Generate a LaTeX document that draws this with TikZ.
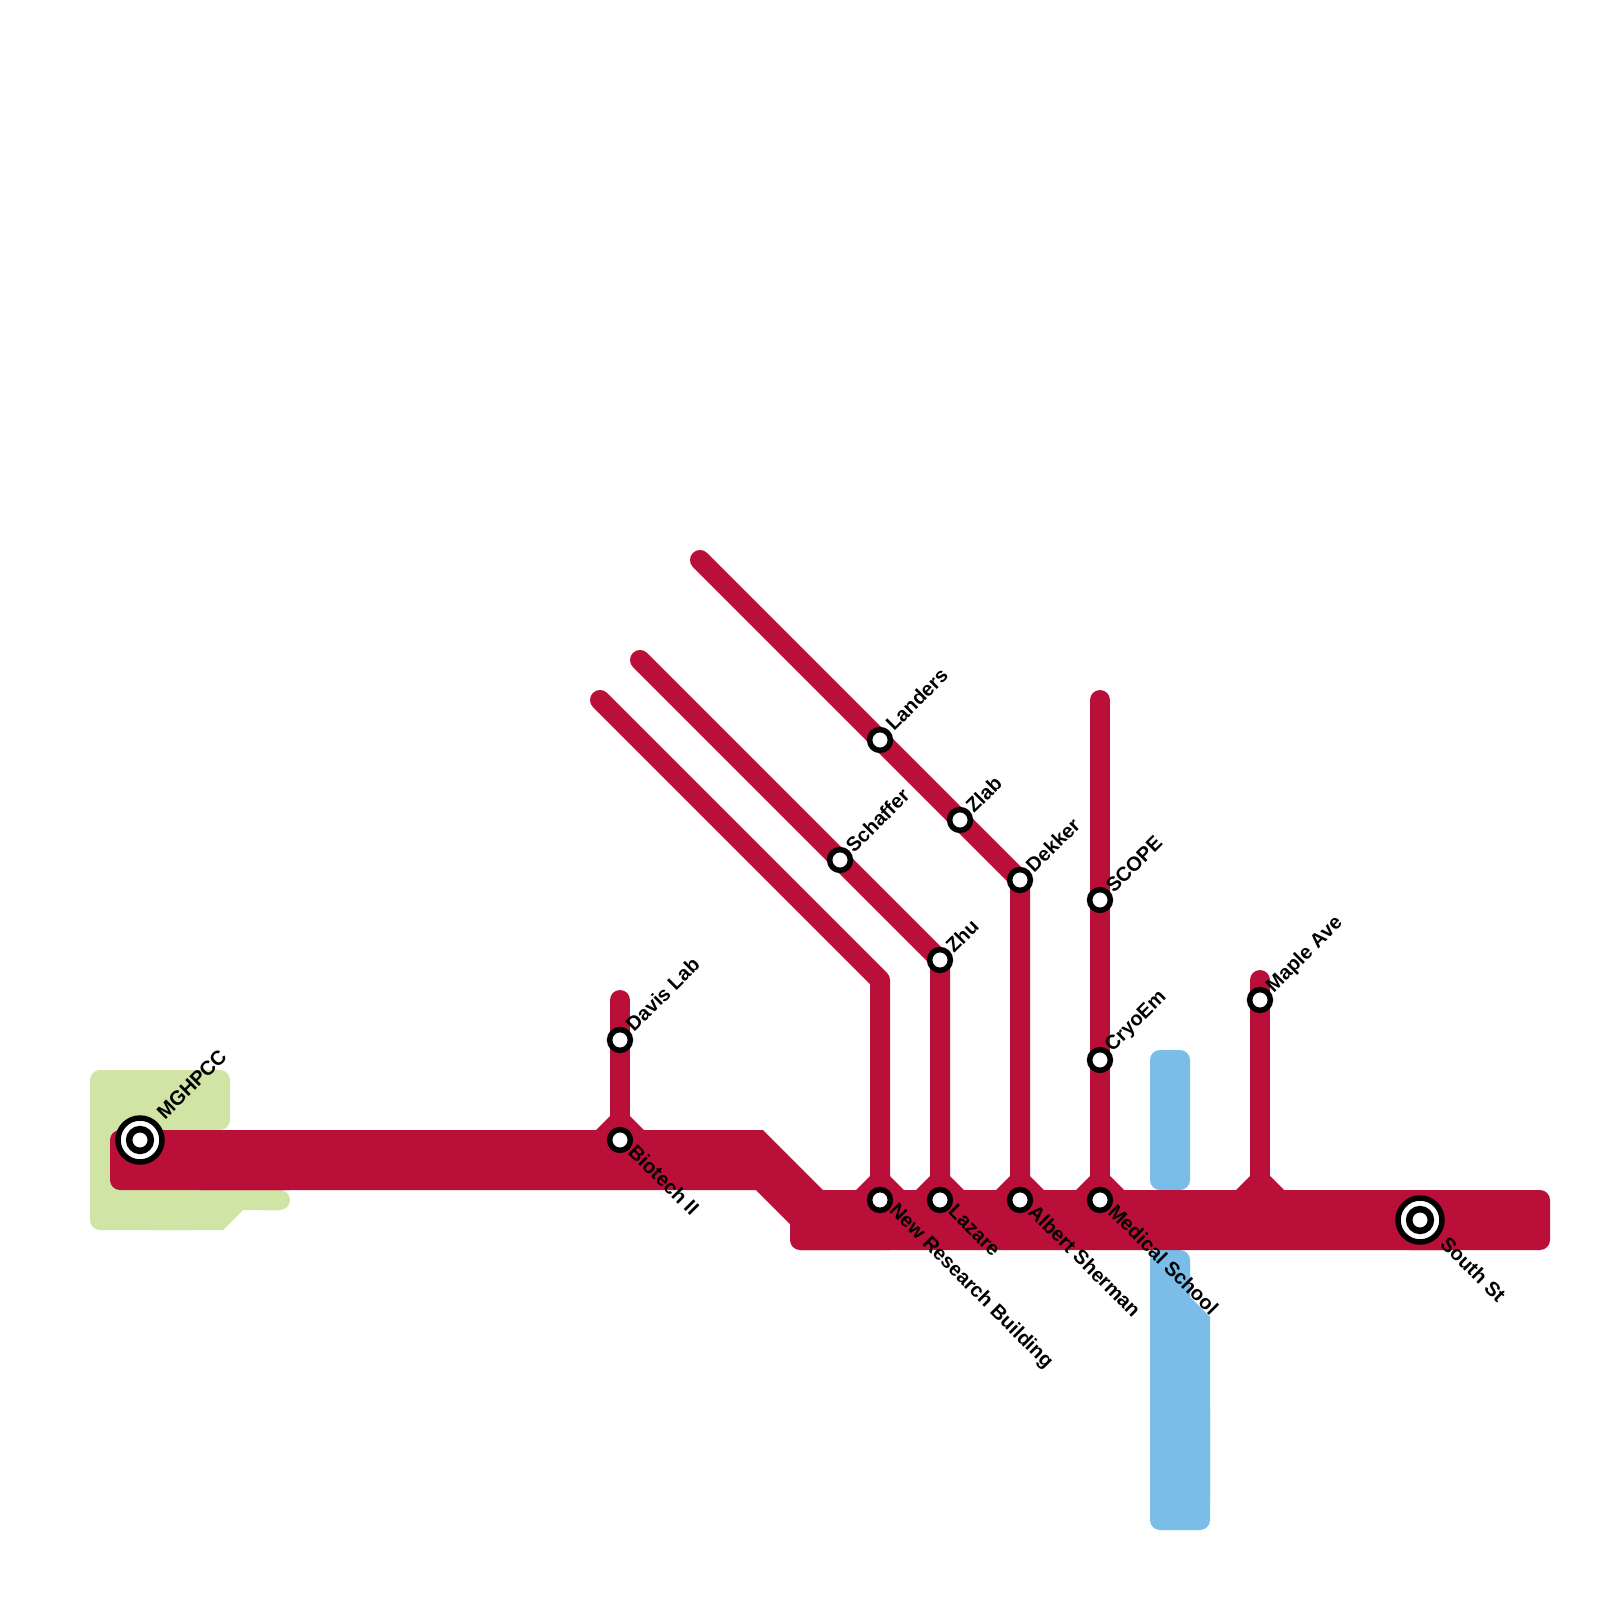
\documentclass[tikz,border=0pt]{standalone}
\usepackage{fontspec}
\setmainfont{Liberation Sans}
\definecolor{redline}{HTML}{BA0F38}
\definecolor{greenarea}{HTML}{D0E4A6}
\definecolor{bluearea}{HTML}{7ABDE8}
\tikzset{
  x=1pt,y=-1pt,
  corner/.style={rounded corners=10pt},
  thin line/.style={draw=redline,line width=20pt,line cap=round,line join=round},
  halt/.style={circle,draw=black,fill=white,line width=5.5pt,minimum size=18pt,inner sep=0pt},
  hub/.style={circle,draw=black,fill=white,line width=5.5pt,minimum size=41.5pt,inner sep=0pt},
  hubcore/.style={circle,draw=black,fill=white,line width=6.5pt,minimum size=18.5pt,inner sep=0pt},
  lab/.style={font=\bfseries\fontsize{20}{20}\selectfont,inner sep=0pt,text=black},
  up/.style={lab,rotate=45,anchor=west},
  down/.style={lab,rotate=-45,anchor=west},
}
\newcommand{\chamfer}[2]{\fill[redline] (#1-24,#2) -- (#1-10,#2-14) -- (#1+10,#2-14) -- (#1+24,#2) -- cycle;}
\begin{document}
\begin{tikzpicture}
\useasboundingbox (0,0) rectangle (1600,1600);
% green area
\fill[greenarea,corner] (90,1070) rectangle (230,1130);
\fill[greenarea,corner] (90,1100) rectangle (200,1230);
\fill[greenarea,corner] (250,1190) rectangle (290,1210);
\fill[greenarea] (150,1190) -- (280,1190) -- (280,1210) -- (243,1210) -- (223,1230) -- (150,1230) -- cycle;
% blue area
\fill[bluearea,corner] (1150,1050) rectangle (1190,1190);
\fill[bluearea,corner] (1150,1250) rectangle (1190,1320);
\fill[bluearea,corner] (1150,1400) rectangle (1210,1530);
\fill[bluearea] (1150,1265) -- (1190,1265) -- (1190,1297) -- (1210,1317) -- (1210,1500) -- (1150,1500) -- cycle;
% free line ends
\coordinate (a0) at (600,700);
\coordinate (a1) at (880,980);
\coordinate (b0) at (640,660);
\coordinate (c0) at (700,560);
\coordinate (d0) at (1100,700);
\coordinate (e0) at (1260,980);
\coordinate (e1) at (1260,1200);
\coordinate (f0) at (620,1000);
% wide bands
\fill[redline,corner] (110,1130) rectangle (300,1190);
\fill[redline,corner] (790,1190) rectangle (900,1250);
\fill[redline,corner] (1400,1190) rectangle (1550,1250);
\fill[redline] (200,1130) -- (763,1130) -- (823,1190) -- (1450,1190) -- (1450,1250) -- (800,1250) -- (800,1235) -- (790,1235) -- (790,1224) -- (756,1190) -- (200,1190) -- cycle;
\chamfer{620}{1130}
\chamfer{880}{1190}
\chamfer{940}{1190}
\chamfer{1020}{1190}
\chamfer{1100}{1190}
\chamfer{1260}{1190}
% station anchors
\coordinate (davis) at (620,1040);
\coordinate (bio) at (620,1140);
\coordinate (nrb) at (880,1200);
\coordinate (laz) at (940,1200);
\coordinate (alb) at (1020,1200);
\coordinate (med) at (1100,1200);
\coordinate (cryo) at (1100,1060);
\coordinate (scope) at (1100,900);
\coordinate (dek) at (1020,880);
\coordinate (zlab) at (960,820);
\coordinate (land) at (880,740);
\coordinate (sch) at (840,860);
\coordinate (zhu) at (940,960);
\coordinate (maple) at (1260,1000);
% lines
\draw[thin line] (a0) -- (a1) -- (nrb);
\draw[thin line] (b0) -- (sch) -- (zhu) -- (laz);
\draw[thin line] (c0) -- (land) -- (zlab) -- (dek) -- (alb);
\draw[thin line] (d0) -- (scope) -- (cryo) -- (med);
\draw[thin line] (e0) -- (maple) -- (e1);
\draw[thin line] (f0) -- (davis) -- (bio);
% station markers: drawn as filled discs so that their size is exact
\foreach \n in {davis,bio,nrb,laz,alb,med,cryo,scope,dek,zlab,land,sch,zhu,maple}
  \node[halt,minimum size=20.75pt] (\n m) at (\n) {};
\node[hub,minimum size=44pt] (mghm) at (140,1140) {};
\node[hubcore,minimum size=21.75pt] (mghc) at (140,1140) {};
\node[hub,minimum size=44pt] (southm) at (1420,1220) {};
\node[hubcore,minimum size=21.75pt] (southc) at (1420,1220) {};
% labels
\node[up] (lmgh) at (160,1116) {MGHPCC};
\node[up] (ldavis) at (629,1028) {Davis Lab};
\node[down] (lbio) at (632,1148) {Biotech II};
\node[up] (lland) at (889,727) {Landers};
\node[up] (lzlab) at (969,809) {Zlab};
\node[up] (lsch) at (849,849) {Schaffer};
\node[up] (ldek) at (1029,869) {Dekker};
\node[up] (lzhu) at (949,949) {Zhu};
\node[up] (lscope) at (1109,889) {SCOPE};
\node[up] (lcryo) at (1109,1049) {CryoEm};
\node[up] (lmaple) at (1270,990) {Maple Ave};
\node[down] (lnrb) at (892,1208) {New Research Building};
\node[down] (llaz) at (952,1208) {Lazare};
\node[down] (lalb) at (1032,1208) {Albert Sherman};
\node[down] (lmed) at (1112,1208) {Medical School};
\node[down] (lsouth) at (1444,1240) {South St};
\end{tikzpicture}
\end{document}
